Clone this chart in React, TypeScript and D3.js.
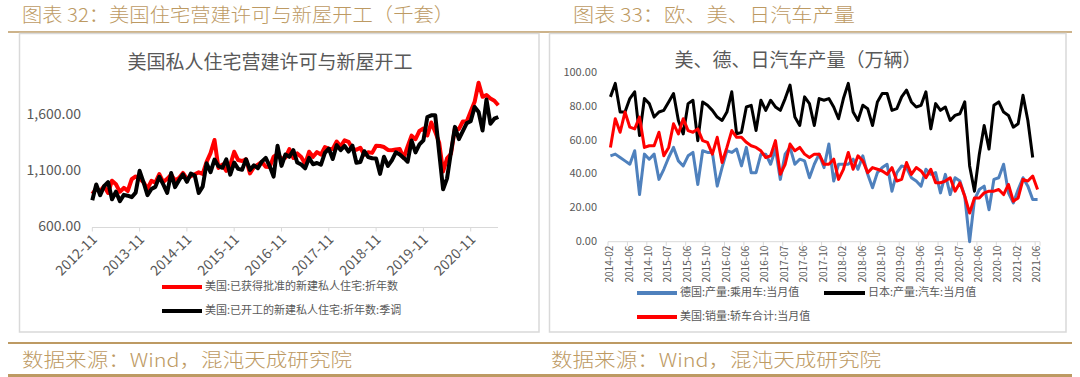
import React from "react";
import * as d3 from "d3";

// ---------- Left chart data (thousand units, SAAR), 2012-11 .. 2021-06 ----------
const leftTickLabels = ["2012-11","2013-11","2014-11","2015-11","2016-11","2017-11","2018-11","2019-11","2020-11"];
const permits = [
  900, 946,
  925, 968, 908, 1017, 985, 918, 954, 926, 1030, 1055, 1036, 1002,
  946, 1015, 1000, 1076, 1005, 1034, 1070, 1020, 1041, 1086, 1034, 1058,
  1074, 1092, 1078, 1185, 1263, 1380, 1130, 1161, 1105, 1158, 1275, 1201,
  1193, 1208, 1082, 1138, 1161, 1185, 1142, 1138, 1232, 1254, 1212, 1223,
  1300, 1219, 1260, 1229, 1168, 1275, 1230, 1272, 1250, 1316, 1303, 1300,
  1366, 1323, 1377, 1364, 1301, 1292, 1311, 1249, 1270, 1265, 1328, 1326,
  1317, 1291, 1288, 1296, 1299, 1220, 1322, 1419, 1387, 1461, 1482, 1420,
  1536, 1452, 1356, 1100, 1216, 1258, 1483, 1476, 1545, 1545, 1635, 1720,
  1890, 1765, 1780, 1750, 1730, 1690,
];
const starts = [
  842, 983,
  888, 969, 1005, 852, 919, 835, 891, 883, 870, 911, 1105, 1003,
  888, 943, 962, 1052, 984, 909, 1085, 960, 1022, 1074, 1007, 1080,
  1063, 907, 964, 1173, 1093, 1205, 1146, 1132, 1207, 1071, 1179, 1123,
  1114, 1208, 1113, 1155, 1128, 1187, 1221, 1147, 1054, 1328, 1149, 1251,
  1230, 1289, 1179, 1161, 1128, 1220, 1164, 1175, 1159, 1265, 1303, 1210,
  1334, 1290, 1327, 1276, 1329, 1177, 1184, 1280, 1228, 1217, 1214, 1078,
  1230, 1149, 1199, 1270, 1251, 1220, 1186, 1375, 1269, 1340, 1377, 1585,
  1600, 1600, 1269, 940, 1038, 1273, 1497, 1388, 1459, 1530, 1547, 1675,
  1630, 1465, 1740, 1525, 1570, 1585,
];
const leftYTicks = [600, 1100, 1600];

// ---------- Right chart data (10k vehicles), 2014-02 .. 2021-06 ----------
const rightTickLabels = [
  "2014-02","2014-06","2014-10","2015-07","2015-06","2015-10","2016-02","2016-06","2016-10",
  "2017-07","2017-06","2017-10","2018-02","2018-06","2018-10","2019-02","2019-06","2019-10",
  "2020-07","2020-06","2020-10","2021-02","2021-06",
];
const germany = [
  51, 52, 50, 48, 46, 54, 28, 52, 49, 52, 37, 43, 50, 56, 48, 45, 51, 53, 34, 54,
  53, 53, 33, 44, 54, 53, 55, 45, 56, 41, 41, 52, 52, 46, 55, 37, 52, 56, 46, 49,
  48, 38, 46, 52, 44, 58, 36, 46, 46, 46, 49, 43, 51, 40, 32, 41, 44, 46, 30, 41,
  45, 44, 38, 36, 33, 43, 40, 41, 29, 40, 28, 38, 36, 27, 0, 25, 31, 33, 19, 37,
  38, 46, 29, 23, 31, 38, 33, 25, 25,
];
const japan = [
  86, 94, 77, 77, 85, 89, 63, 85, 82, 74, 77, 78, 83, 88, 72, 64, 82, 84, 60, 83,
  81, 78, 74, 72, 77, 89, 64, 65, 80, 81, 66, 84, 78, 84, 80, 78, 85, 93, 74, 69,
  86, 82, 69, 85, 84, 85, 80, 73, 85, 94, 77, 72, 81, 79, 69, 83, 88, 88, 78, 79,
  86, 90, 83, 80, 81, 89, 67, 82, 78, 80, 72, 75, 76, 83, 45, 30, 52, 69, 55, 81,
  83, 77, 75, 68, 70, 87, 72, 50,
];
const usSales = [
  56, 73, 65, 77, 68, 67, 74, 56, 57, 57, 65, 51, 56, 70, 64, 73, 66, 65, 67, 60,
  59, 52, 62, 47, 56, 66, 62, 62, 59, 57, 56, 54, 50, 51, 60, 40, 46, 58, 54, 56,
  52, 50, 52, 52, 46, 46, 49, 37, 43, 53, 43, 51, 48, 41, 44, 43, 42, 40, 44, 36,
  37, 47, 40, 44, 42, 38, 43, 35, 35, 36, 38, 30, 35, 27, 17, 26, 26, 29, 30, 30,
  31, 28, 34, 24, 26, 37, 36, 39, 31,
];
const rightYTicks = [0, 20, 40, 60, 80, 100];

const GOLD = "#bd9a63";
const GRID = "#d9d9d9";
const TXT = "#595959";
const FONT = "'Noto Sans CJK SC', 'Noto Sans', sans-serif";

export default function App() {
  // Left scales
  const nL = permits.length;
  const xL = d3.scaleLinear().domain([0, nL - 1]).range([92.3, 498.3]);
  const yL = d3.scaleLinear().domain([600, 1600]).range([227.5, 115.3]);
  const lineL = d3.line<number>().x((_, i) => xL(i)).y((d) => yL(d));

  // Right scales
  const nR = germany.length;
  const xR = d3.scaleBand<number>().domain(d3.range(nR)).range([608, 1040]);
  const cx = (i: number) => (xR(i) as number) + xR.bandwidth() / 2;
  const yR = d3.scaleLinear().domain([0, 100]).range([241.7, 73.3]);
  const lineR = d3.line<number>().x((_, i) => cx(i)).y((d) => yR(d));
  const fmt2 = d3.format(",.2f");

  return (
    <svg width={1080} height={377} style={{ position: "absolute", left: 0, top: 0, background: "#fff" }} fontFamily={FONT}>
      {/* headers */}
      <text x={22} y={22} fontSize={19} fontWeight={300} fill={GOLD} textLength={432} lengthAdjust="spacingAndGlyphs">图表 32：美国住宅营建许可与新屋开工（千套）</text>
      <text x={573} y={22} fontSize={19} fontWeight={300} fill={GOLD} textLength={282} lengthAdjust="spacingAndGlyphs">图表 33：欧、美、日汽车产量</text>
      <line x1={8} x2={1072} y1={32} y2={32} stroke={GOLD} strokeWidth={1.5} />

      {/* panel boxes */}
      <rect x={19.5} y={33.5} width={519.5} height={298.5} fill="none" stroke={GRID} strokeWidth={1.5} />
      <rect x={549.5} y={33.5} width={516.5} height={298.5} fill="none" stroke={GRID} strokeWidth={1.5} />

      {/* ---------- Left chart ---------- */}
      <text x={270} y={69} fontSize={19} fill={TXT} textAnchor="middle">美国私人住宅营建许可与新屋开工</text>
      {leftYTicks.map((t) => (
        <text key={t} x={81} y={yL(t)} fontSize={14} fill={TXT} textAnchor="end" dominantBaseline="middle">{fmt2(t)}</text>
      ))}
      <line x1={92} x2={498} y1={yL(600)} y2={yL(600)} stroke={GRID} strokeWidth={1} />
      {leftTickLabels.map((lab, k) => {
        const x = xL(k * 12);
        return (
          <g key={lab}>
            <line x1={x} x2={x} y1={yL(600)} y2={yL(600) + 4} stroke={GRID} />
            <text transform={`translate(${x + 3},${yL(600) + 10}) rotate(-45)`} fontSize={14} fill={TXT} textAnchor="end" dominantBaseline="middle">{lab}</text>
          </g>
        );
      })}
      <path d={lineL(permits) || ""} fill="none" stroke="#ff0000" strokeWidth={4} strokeLinejoin="round" />
      <path d={lineL(starts) || ""} fill="none" stroke="#000000" strokeWidth={4} strokeLinejoin="round" />
      {/* left legend */}
      <line x1={162} x2={202} y1={287} y2={287} stroke="#ff0000" strokeWidth={4} />
      <text x={205} y={287} fontSize={11} fill={TXT} dominantBaseline="middle">美国:已获得批准的新建私人住宅:折年数</text>
      <line x1={162} x2={202} y1={311} y2={311} stroke="#000000" strokeWidth={4} />
      <text x={205} y={311} fontSize={11} fill={TXT} dominantBaseline="middle">美国:已开工的新建私人住宅:折年数:季调</text>

      {/* ---------- Right chart ---------- */}
      <text x={798} y={67} fontSize={19} fill={TXT} textAnchor="middle">美、德、日汽车产量（万辆）</text>
      {rightYTicks.map((t) => (
        <text key={t} x={597} y={yR(t)} fontSize={11} fill={TXT} textAnchor="end" dominantBaseline="middle">{fmt2(t)}</text>
      ))}
      <line x1={608} x2={1040} y1={yR(0)} y2={yR(0)} stroke={GRID} strokeWidth={1} />
      {rightTickLabels.map((lab, k) => {
        const i = k * 4;
        const tx = xR(i) as number;
        return (
          <g key={lab + k}>
            <line x1={tx} x2={tx} y1={yR(0)} y2={yR(0) + 4} stroke={GRID} />
            <text transform={`translate(${cx(i)},${yR(0) + 4}) rotate(-90)`} fontSize={10} fill={TXT} textAnchor="end" dominantBaseline="middle">{lab}</text>
          </g>
        );
      })}
      <line x1={1040} x2={1040} y1={yR(0)} y2={yR(0) + 4} stroke={GRID} />
      <path d={lineR(germany) || ""} fill="none" stroke="#4f81bd" strokeWidth={3} strokeLinejoin="round" />
      <path d={lineR(japan) || ""} fill="none" stroke="#000000" strokeWidth={3} strokeLinejoin="round" />
      <path d={lineR(usSales) || ""} fill="none" stroke="#ff0000" strokeWidth={3} strokeLinejoin="round" />
      {/* right legend */}
      <line x1={637} x2={677} y1={293} y2={293} stroke="#4f81bd" strokeWidth={4} />
      <text x={680} y={293} fontSize={11} fill={TXT} dominantBaseline="middle">德国:产量:乘用车:当月值</text>
      <line x1={824} x2={865} y1={293} y2={293} stroke="#000000" strokeWidth={4} />
      <text x={868} y={293} fontSize={11} fill={TXT} dominantBaseline="middle">日本:产量:汽车:当月值</text>
      <line x1={637} x2={677} y1={317} y2={317} stroke="#ff0000" strokeWidth={4} />
      <text x={680} y={317} fontSize={11} fill={TXT} dominantBaseline="middle">美国:销量:轿车合计:当月值</text>

      {/* footers */}
      <line x1={8} x2={1072} y1={343} y2={343} stroke={GOLD} strokeWidth={2} />
      <text x={22} y={367} fontSize={19} fontWeight={300} fill={GOLD} textLength={330} lengthAdjust="spacingAndGlyphs">数据来源：Wind，混沌天成研究院</text>
      <text x={551} y={367} fontSize={19} fontWeight={300} fill={GOLD} textLength={330} lengthAdjust="spacingAndGlyphs">数据来源：Wind，混沌天成研究院</text>
      <line x1={8} x2={1072} y1={375.5} y2={375.5} stroke={GOLD} strokeWidth={3} />
    </svg>
  );
}
